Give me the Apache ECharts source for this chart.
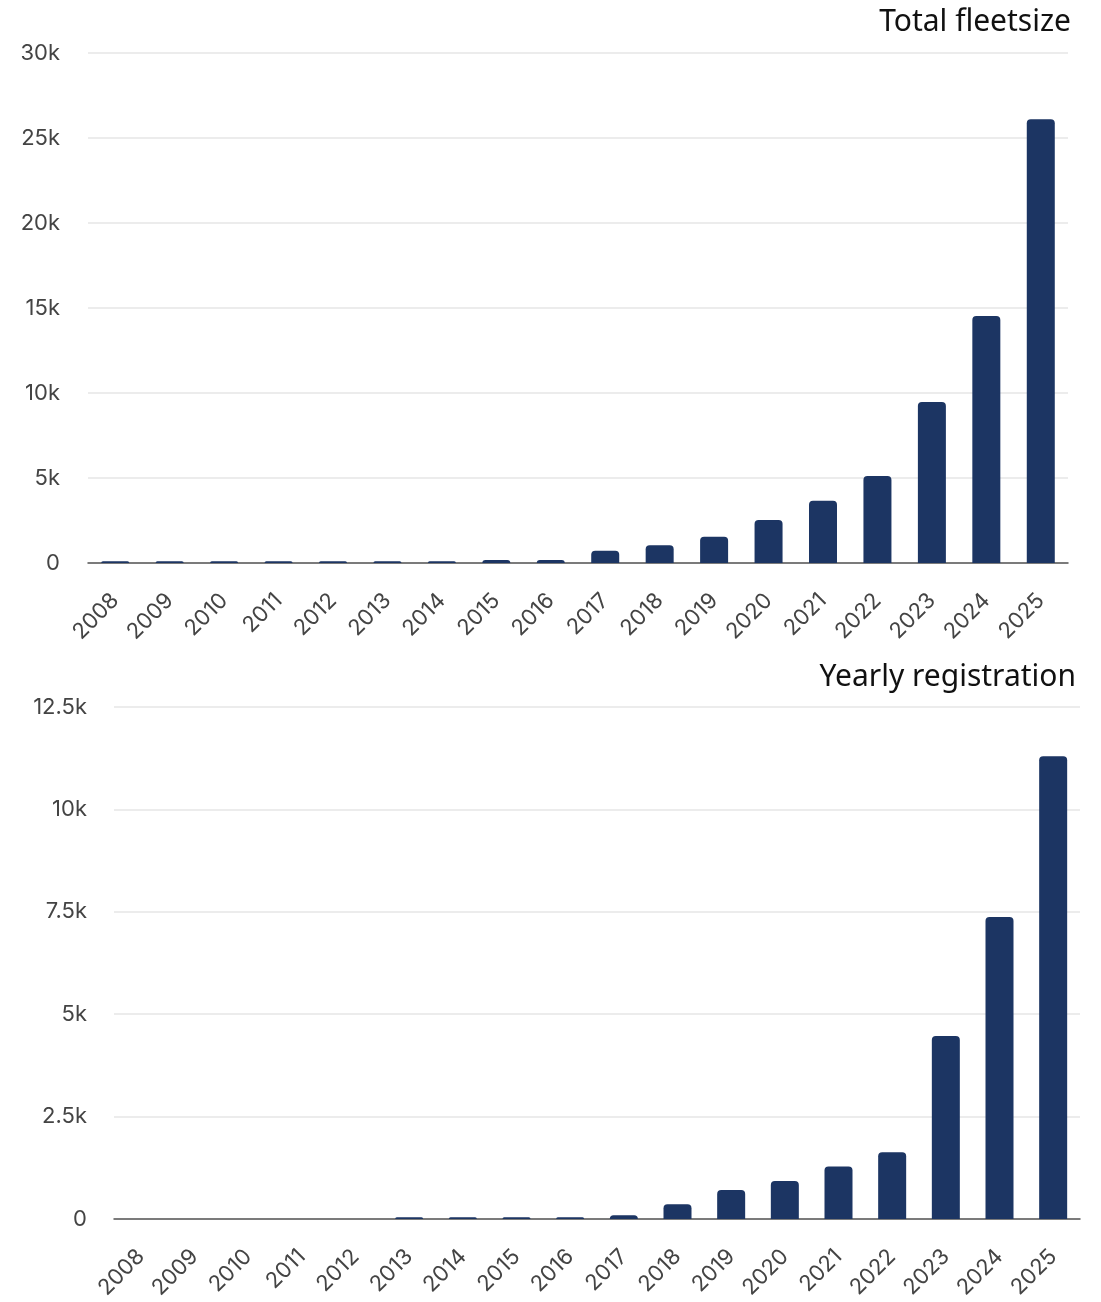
<!DOCTYPE html>
<html>
<head>
<meta charset="utf-8">
<style>
  html, body { margin: 0; padding: 0; background: #fff; }
  #main { width: 1101px; height: 1302px; }
</style>
<script src="https://cdn.jsdelivr.net/npm/echarts@6/dist/echarts.min.js"></script>
</head>
<body>
<div id="main"></div>
<script>
var years = ['2008', '2009', '2010', '2011', '2012', '2013', '2014', '2015', '2016',
             '2017', '2018', '2019', '2020', '2021', '2022', '2023', '2024', '2025'];

// totaal wagenpark
var fleetSize = [100, 100, 100, 100, 100, 100, 100, 180, 180,
                 720, 1040, 1550, 2530, 3660, 5120, 9470, 14530, 26100];

// registraties per jaar
var yearlyReg = [0, 0, 0, 0, 0, 40, 40, 40, 40,
                 90, 360, 710, 930, 1280, 1630, 4470, 7370, 11300];

var barColor = '#1c3563';
var axisFont = 'Inter, "Noto Sans", sans-serif';

function kFormat(v) {
    if (v === 0) return '0';
    return (v / 1000) + 'k';
}

var dom = document.getElementById('main');
var myChart = echarts.init(dom);

var option = {
    animation: false,
    title: [
        {
            text: 'Total fleetsize',
            right: 25,
            top: 2,
            textStyle: { fontFamily: '"Noto Sans", sans-serif', fontWeight: 'normal', fontSize: 30, color: '#111' }
        },
        {
            text: 'Yearly registration',
            right: 20,
            top: 657,
            textStyle: { fontFamily: '"Noto Sans", sans-serif', fontWeight: 'normal', fontSize: 30, color: '#111' }
        }
    ],
    grid: [
        { left: 88, right: 33, top: 53, height: 510 },
        { left: 114, right: 21, top: 707, height: 512 }
    ],
    xAxis: [0, 1].map(function (i) {
        return {
            type: 'category',
            gridIndex: i,
            data: years,
            axisTick: { show: false },
            axisLine: { lineStyle: { color: '#555', width: 1.5 } },
            axisLabel: { rotate: 45, fontSize: 22, color: '#444', fontFamily: axisFont, margin: 34, interval: 0 }
        };
    }),
    yAxis: [
        {
            type: 'value',
            gridIndex: 0,
            min: 0,
            max: 30000,
            interval: 5000,
            axisLabel: { formatter: kFormat, fontSize: 22, color: '#444', fontFamily: axisFont, margin: 28 },
            splitLine: { lineStyle: { color: '#e6e6e6', width: 1.5 } }
        },
        {
            type: 'value',
            gridIndex: 1,
            min: 0,
            max: 12500,
            interval: 2500,
            axisLabel: { formatter: kFormat, fontSize: 22, color: '#444', fontFamily: axisFont, margin: 27 },
            splitLine: { lineStyle: { color: '#e6e6e6', width: 1.5 } }
        }
    ],
    series: [
        {
            name: 'Total fleetsize',
            type: 'bar',
            xAxisIndex: 0,
            yAxisIndex: 0,
            barWidth: 28,
            itemStyle: { color: barColor, borderRadius: [4, 4, 0, 0] },
            data: fleetSize
        },
        {
            name: 'Yearly registration',
            type: 'bar',
            xAxisIndex: 1,
            yAxisIndex: 1,
            barWidth: 28,
            itemStyle: { color: barColor, borderRadius: [4, 4, 0, 0] },
            data: yearlyReg
        }
    ]
};

myChart.setOption(option);
</script>
</body>
</html>
